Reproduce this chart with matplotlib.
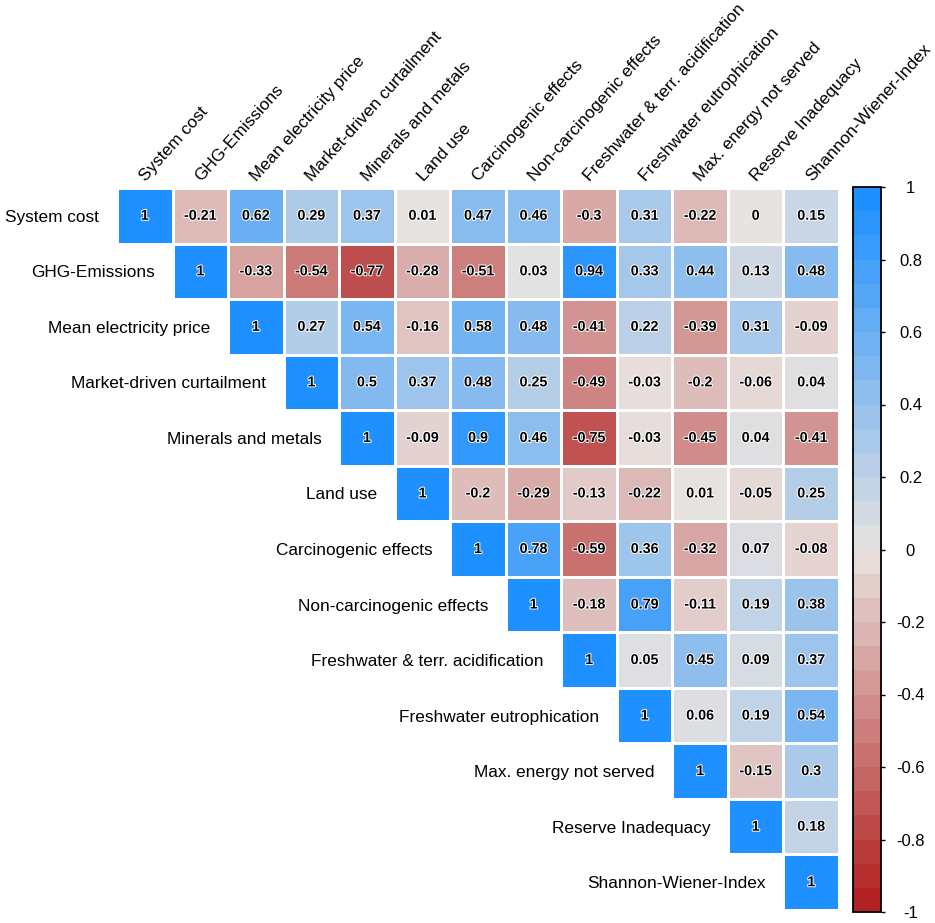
import numpy as np
import matplotlib
matplotlib.use("Agg")
import matplotlib.pyplot as plt
from matplotlib.colors import LinearSegmentedColormap, ListedColormap, Normalize
import matplotlib.patheffects as pe

plt.rcParams['font.family'] = ['Liberation Sans', 'DejaVu Sans']
plt.rcParams['axes.unicode_minus'] = False

variables = [
    "System cost", "GHG-Emissions", "Mean electricity price",
    "Market-driven curtailment", "Minerals and metals", "Land use",
    "Carcinogenic effects", "Non-carcinogenic effects",
    "Freshwater & terr. acidification", "Freshwater eutrophication",
    "Max. energy not served", "Reserve Inadequacy", "Shannon-Wiener-Index",
]

# upper triangle rows (starting at the diagonal)
row_system_cost = [1, -0.21, 0.62, 0.29, 0.37, 0.01, 0.47, 0.46, -0.3, 0.31, -0.22, 0, 0.15]
row_ghg = [1, -0.33, -0.54, -0.77, -0.28, -0.51, 0.03, 0.94, 0.33, 0.44, 0.13, 0.48]
row_price = [1, 0.27, 0.54, -0.16, 0.58, 0.48, -0.41, 0.22, -0.39, 0.31, -0.09]
row_curtail = [1, 0.5, 0.37, 0.48, 0.25, -0.49, -0.03, -0.2, -0.06, 0.04]
row_minerals = [1, -0.09, 0.9, 0.46, -0.75, -0.03, -0.45, 0.04, -0.41]
row_land = [1, -0.2, -0.29, -0.13, -0.22, 0.01, -0.05, 0.25]
row_carc = [1, 0.78, -0.59, 0.36, -0.32, 0.07, -0.08]
row_noncarc = [1, -0.18, 0.79, -0.11, 0.19, 0.38]
row_acid = [1, 0.05, 0.45, 0.09, 0.37]
row_eutro = [1, 0.06, 0.19, 0.54]
row_ens = [1, -0.15, 0.3]
row_reserve = [1, 0.18]
row_shannon = [1]

upper_rows = [row_system_cost, row_ghg, row_price, row_curtail, row_minerals,
              row_land, row_carc, row_noncarc, row_acid, row_eutro, row_ens,
              row_reserve, row_shannon]

cbar_ticks = [-1, -0.8, -0.6, -0.4, -0.2, 0, 0.2, 0.4, 0.6, 0.8, 1]

n = len(variables)
mat = np.full((n, n), np.nan)
for i, row in enumerate(upper_rows):
    for k, v in enumerate(row):
        mat[i, i + k] = v
masked = np.ma.masked_invalid(mat)

cmap = LinearSegmentedColormap.from_list(
    "corr", ["#B22222", "#E8E3E0", "#1E90FF"])
norm = Normalize(-1, 1)

W, H = 935, 923
fig = plt.figure(figsize=(W / 100, H / 100), dpi=100)

gx0, gx1, gy0, gy1 = 117, 839, 188, 910
ax = fig.add_axes([gx0 / W, 1 - gy1 / H, (gx1 - gx0) / W, (gy1 - gy0) / H])
ax.pcolormesh(np.arange(n + 1), np.arange(n + 1), masked, cmap=cmap, norm=norm,
              edgecolors="white", linewidth=1.8)
ax.set_xlim(0, n)
ax.set_ylim(n, 0)
ax.axis("off")

stroke = [pe.withStroke(linewidth=1.4, foreground="white")]
for i in range(n):
    for j in range(i, n):
        v = mat[i, j]
        ax.text(j + 0.5, i + 0.5, f"{v:g}", ha="center", va="center",
                fontsize=10.3, fontweight="bold", color="black",
                path_effects=stroke)

# row labels
for i, lab in enumerate(variables):
    ax.text(i - 0.32, i + 0.5, lab, ha="right", va="center_baseline",
            fontsize=12.4, color="black", clip_on=False)

# column labels
for j, lab in enumerate(variables):
    ax.text(j + 0.52, -0.11, lab, ha="left", va="baseline", rotation=48,
            rotation_mode="anchor", fontsize=12.4, color="black", clip_on=False)

# colorbar
cax = fig.add_axes([853 / W, 1 - 912 / H, 27.5 / W, 725 / H])
cb_cmap = ListedColormap(cmap(np.linspace(0, 1, 30)))
sm = matplotlib.cm.ScalarMappable(norm=norm, cmap=cb_cmap)
cb = fig.colorbar(sm, cax=cax)
cb.outline.set_linewidth(1.3)
cb.outline.set_edgecolor("black")
cb.set_ticks(cbar_ticks)
cb.set_ticklabels([f"{t:g}" for t in cbar_ticks])
cax.tick_params(axis="y", direction="out", length=2.6, width=1, pad=19,
                labelsize=12, colors="black")
for t in cax.get_yticklabels():
    t.set_horizontalalignment("center")

fig.savefig("out.png", dpi=100, facecolor="white")
